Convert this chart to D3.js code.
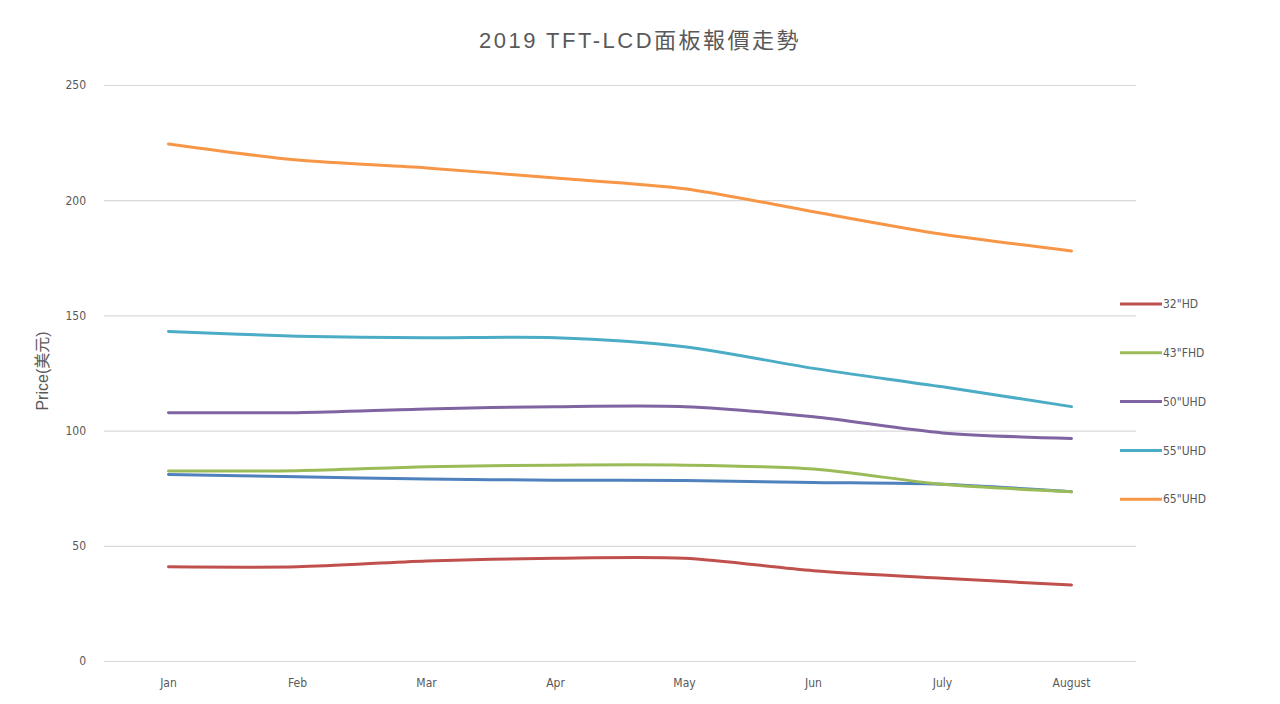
<!DOCTYPE html>
<html lang="zh-Hant">

<head>
    <meta charset="UTF-8">
    <title>2019 TFT-LCD面板報價走勢</title>
    <style>
        body {
            margin: 0;
            padding: 0;
            background: #fff;
        }

        svg {
            display: block;
        }

        .tick text {
            font-family: "Liberation Sans Narrow", "DejaVu Sans Condensed", "Noto Sans", sans-serif;
        }
    </style>
</head>

<body>

    <svg width="1280" height="704"></svg>

    <script src="https://d3js.org/d3.v7.min.js"></script>
    <script>
        // Chart data
        const months = ["Jan", "Feb", "Mar", "Apr", "May", "Jun", "July", "August"];
        const yTicks = [0, 50, 100, 150, 200, 250];

        // unlabeled series (no legend entry in the original)
        const blueSeries = [81, 80, 79, 78.5, 78.3, 77.5, 76.7, 73.5];
        const hd32 = [40.9, 40.9, 43.4, 44.6, 44.6, 39.2, 35.9, 33];
        const fhd43 = [82.5, 82.6, 84.3, 85, 85, 83.3, 76.7, 73.5];
        const uhd50 = [107.8, 107.8, 109.4, 110.4, 110.4, 106, 99, 96.6];
        const uhd55 = [143, 141, 140.3, 140.3, 136.4, 127, 119, 110.4];
        const uhd65 = [224.4, 217.4, 214, 209.6, 205, 195, 185.2, 178];

        const seriesNames = ["", "32\"HD", "43\"FHD", "50\"UHD", "55\"UHD", "65\"UHD"];
        const seriesValues = [blueSeries, hd32, fhd43, uhd50, uhd55, uhd65];
        const seriesColors = ["#4F81BD", "#C0504D", "#9BBB59", "#8064A2", "#4BACC6", "#F79646"];

        const svg = d3.select("svg");
        const plotLeft = 104, plotRight = 1136, plotTop = 85, plotBottom = 661;
        const textColor = "#595959";
        const narrow = "'Liberation Sans Narrow', 'DejaVu Sans Condensed', 'Noto Sans', sans-serif";

        const x = d3.scaleBand().domain(months).range([plotLeft, plotRight]);
        const y = d3.scaleLinear().domain([0, 250]).range([plotBottom, plotTop]);

        // title
        svg.append("text")
            .attr("x", 640)
            .attr("y", 48)
            .attr("text-anchor", "middle")
            .attr("fill", textColor)
            .style("font-family", "'Liberation Sans', 'Noto Sans CJK TC', sans-serif")
            .style("font-size", "22px")
            .style("letter-spacing", "2.5px")
            .text("2019 TFT-LCD面板報價走勢");

        // gridlines + y labels
        const yAxis = svg.append("g")
            .attr("transform", `translate(${plotLeft},0)`)
            .call(d3.axisLeft(y).tickValues(yTicks).tickSize(-(plotRight - plotLeft)).tickPadding(18));
        yAxis.select(".domain").remove();
        yAxis.selectAll(".tick line").attr("stroke", "#d9d9d9").attr("stroke-width", 1.2);
        yAxis.selectAll(".tick text").attr("fill", textColor).style("font-size", "12px");

        // x labels
        const xAxis = svg.append("g")
            .attr("transform", `translate(0,${plotBottom})`)
            .call(d3.axisBottom(x).tickSize(0).tickPadding(17));
        xAxis.select(".domain").remove();
        xAxis.selectAll(".tick text").attr("fill", textColor).style("font-size", "12px");

        // y axis title
        svg.append("text")
            .attr("transform", "translate(48,371) rotate(-90)")
            .attr("text-anchor", "middle")
            .attr("fill", textColor)
            .style("font-family", "'Liberation Sans', 'Noto Sans CJK TC', sans-serif")
            .style("font-size", "16px")
            .text("Price(美元)");

        // smoothed lines
        const line = d3.line()
            .x((d, i) => x(months[i]) + x.bandwidth() / 2)
            .y(d => y(d))
            .curve(d3.curveCardinal.tension(0.2));

        svg.append("g")
            .selectAll("path")
            .data(seriesValues)
            .join("path")
            .attr("d", d => line(d))
            .attr("fill", "none")
            .attr("stroke", (d, i) => seriesColors[i])
            .attr("stroke-width", 3)
            .attr("stroke-linecap", "round");

        // legend (skip the unlabeled series)
        const legend = svg.append("g")
            .selectAll("g")
            .data(seriesNames.slice(1))
            .join("g")
            .attr("transform", (d, i) => `translate(1120,${304 + i * 48.8})`);

        legend.append("line")
            .attr("x1", 0).attr("x2", 42)
            .attr("stroke", (d, i) => seriesColors[i + 1])
            .attr("stroke-width", 3);

        legend.append("text")
            .attr("x", 43)
            .attr("dy", "0.35em")
            .attr("fill", textColor)
            .style("font-family", narrow)
            .style("font-size", "12px")
            .text(d => d);
    </script>

</body>

</html>
